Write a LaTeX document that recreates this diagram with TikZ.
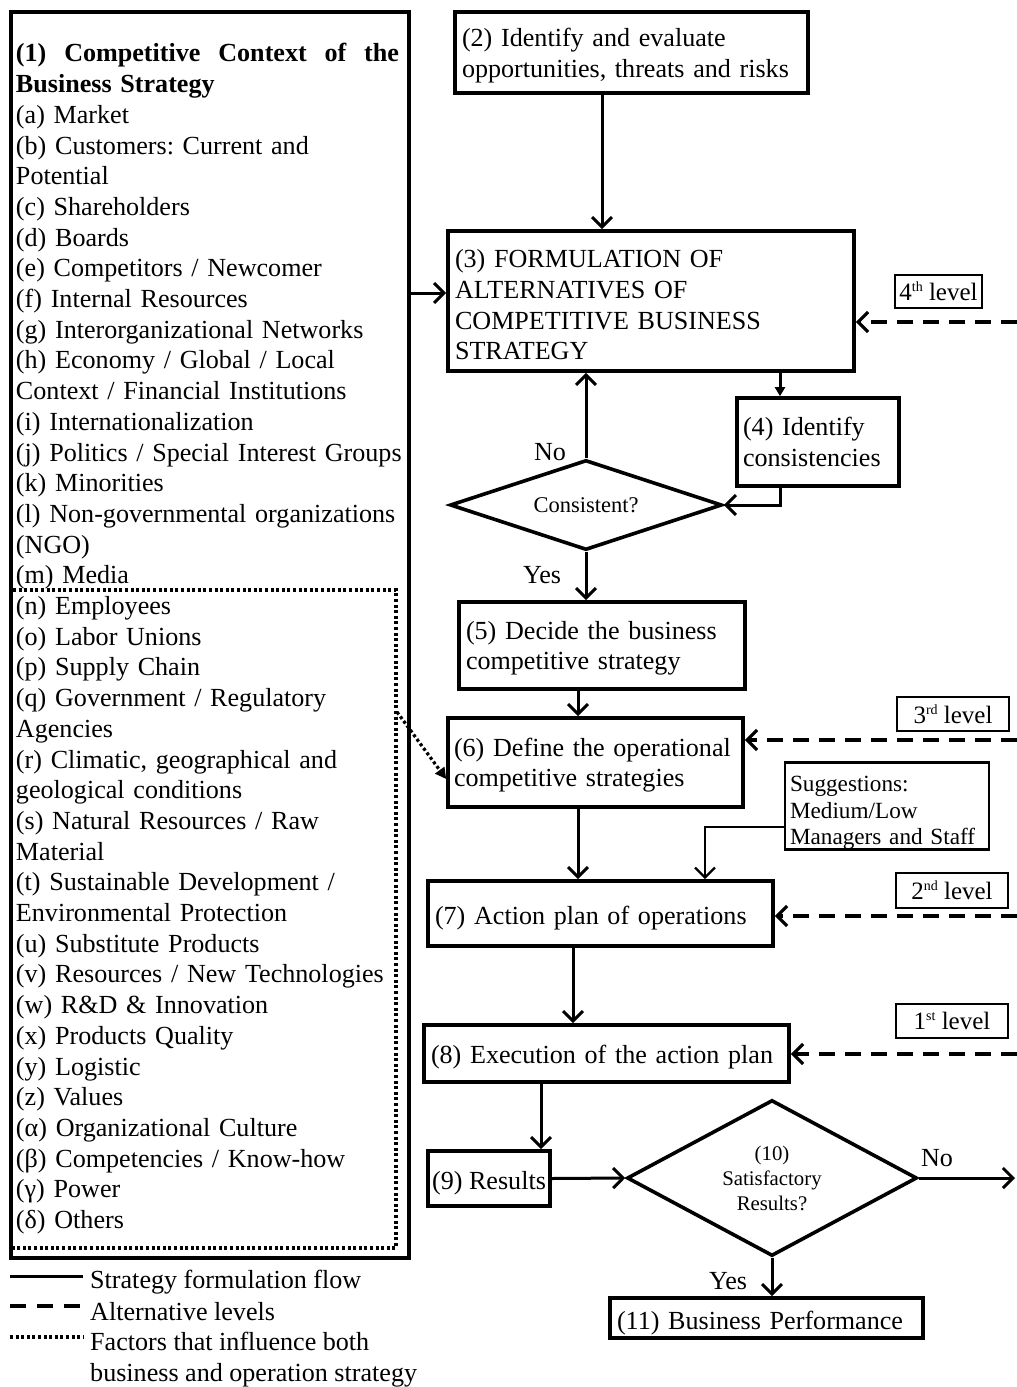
\documentclass[tikz,border=0pt]{standalone}
\usepackage{fontspec}
\setmainfont{Liberation Serif}
\usetikzlibrary{arrows.meta,shapes.geometric}
\frenchspacing
\newcommand\fsA{\fontsize{26.1}{30.6}\selectfont}
\newcommand\fsE{\fontsize{26.1}{30.7}\selectfont}
\newcommand\fsL{\fontsize{25}{28}\selectfont}
\newcommand\fsB{\fontsize{23.2}{26.5}\selectfont}
\newcommand\fsC{\fontsize{20.8}{25}\selectfont}
\newcommand\fsD{\fontsize{22.5}{26}\selectfont}
\newcommand\sps[1]{\raisebox{0.75ex}{\fontsize{14}{14}\selectfont #1}}
\newcommand\tall[1]{\rule{0pt}{#1}}
\begin{document}
\begin{tikzpicture}[x=1pt,y=-1pt,
  box/.style={draw, line width=3.6pt, align=left, inner xsep=7pt, inner ysep=0pt, font=\fsA},
  lvlbox/.style={draw, line width=1.6pt, inner sep=0pt, font=\fsL},
  dia/.style={draw, diamond, line width=3.6pt, inner sep=0pt, align=center},
  flow/.style={line width=3pt, -{Straight Barb[length=10pt,width=20pt]}},
  alt/.style={line width=3.2pt, dash pattern=on 16pt off 10pt, -{Straight Barb[length=10pt,width=20pt]}},
  infl/.style={line width=3.2pt, dash pattern=on 3pt off 2.6pt},
  lbl/.style={font=\fsA, inner sep=0pt}
]
\fill[white] (0,0) rectangle (1017,1387);
\useasboundingbox (0,0) rectangle (1017,1387);

% ---- box (1)
\node[box, font=\fsE, inner xsep=5pt, minimum width=398pt, minimum height=1246pt, text width=388pt] (b1) at (210,635) {%
\leavevmode\tall{26pt}\hbox to 383pt{\bfseries (1)\hfill Competitive\hfill Context\hfill of\hfill the}\\
\textbf{Business Strategy}\\
(a) Market\\
(b) Customers: Current and\\
Potential\\
(c) Shareholders\\
(d) Boards\\
(e) Competitors / Newcomer\\
(f) Internal Resources\\
(g) Interorganizational Networks\\
(h) Economy / Global / Local\\
Context / Financial Institutions\\
(i) Internationalization\\
(j) Politics / Special Interest Groups\\
(k) Minorities\\
(l) Non-governmental organizations\\
(NGO)\\
(m) Media\\
(n) Employees\\
(o) Labor Unions\\
(p) Supply Chain\\
(q) Government / Regulatory\\
Agencies\\
(r) Climatic, geographical and\\
geological conditions\\
(s) Natural Resources / Raw\\
Material\\
(t) Sustainable Development /\\
Environmental Protection\\
(u) Substitute Products\\
(v) Resources / New Technologies\\
(w) R\&D \& Innovation\\
(x) Products Quality\\
(y) Logistic\\
(z) Values\\
(α) Organizational Culture\\
(β) Competencies / Know-how\\
(γ) Power\\
(δ) Others};
% dotted sub-box
\draw[infl] (13,590) -- (396,590) -- (396,1248) -- (13,1248);

% ---- right column
\node[box, minimum width=353pt, minimum height=81pt, text width=339pt] (n2) at (631.5,52.5) {\tall{25pt}(2) Identify and evaluate\\opportunities, threats and risks};
\node[box, minimum width=406pt, minimum height=140pt, text width=392pt] (n3) at (651,301) {\tall{26pt}(3) FORMULATION OF\\ALTERNATIVES OF\\COMPETITIVE BUSINESS\\STRATEGY};
\node[box, inner xsep=6pt, minimum width=162pt, minimum height=88pt, text width=150pt] (n4) at (818,442) {(4) Identify\\consistencies};
\node[dia, aspect=3, minimum width=272pt, minimum height=90pt, font=\fsD] (d1) at (586,505) {Consistent?};
\node[box, minimum width=286pt, minimum height=87pt, text width=272pt] (n5) at (602,645.5) {\tall{24pt}(5) Decide the business\\competitive strategy};
\node[box, inner xsep=6pt, minimum width=295pt, minimum height=89pt, text width=283pt] (n6) at (595.5,762.5) {\tall{24pt}(6) Define the operational\\competitive strategies};
\node[draw, line width=2.4pt, align=left, font=\fsB, inner xsep=5pt, inner ysep=0pt, minimum width=204pt, minimum height=84pt, text width=194pt] (sug) at (887,806) {\tall{29pt}Suggestions:\\Medium/Low\\Managers and Staff};
\node[box, minimum width=345pt, minimum height=65pt, text width=331pt] (n7) at (600.5,913.5) {\tall{28pt}(7) Action plan of operations};
\node[box, minimum width=365pt, minimum height=57pt, text width=351pt] (n8) at (606.5,1053.5) {\tall{26pt}(8) Execution of the action plan};
\node[box, inner xsep=2pt, minimum width=122pt, minimum height=55pt] (n9) at (489,1178.5) {\tall{28pt}(9) Results};
\node[dia, aspect=1.86, minimum width=290pt, minimum height=156pt, font=\fsC] (d2) at (772,1178) {(10)\\Satisfactory\\Results?};
\node[box, minimum width=313pt, minimum height=40pt, text width=299pt] (n11) at (766.5,1318) {\tall{28pt}(11) Business Performance};

% ---- level labels
\node[lvlbox, minimum width=87pt, minimum height=33pt] (l4) at (938.5,291.5) {4\sps{th} level};
\node[lvlbox, minimum width=112pt, minimum height=34pt] (l3) at (953,714) {3\sps{rd} level};
\node[lvlbox, minimum width=112pt, minimum height=35pt] (l2) at (952,890.5) {2\sps{nd} level};
\node[lvlbox, minimum width=112pt, minimum height=34pt] (l1) at (952,1021) {1\sps{st} level};

% ---- decision labels
\node[lbl] (no1) at (550,452) {No};
\node[lbl] (yes1) at (542,575) {Yes};
\node[lbl] (no2) at (937,1158) {No};
\node[lbl] (yes2) at (728,1281) {Yes};

% ---- helper coordinates
\coordinate (x602) at (602,0);
\coordinate (x780) at (780,0);
\coordinate (x578) at (578,0);
\coordinate (x573) at (573,0);
\coordinate (x541) at (541,0);
\coordinate (x705) at (705,0);
\coordinate (y293) at (0,293);
\coordinate (y827) at (0,827);
\coordinate (y779) at (0,779);
\coordinate (e4) at (1017,322);
\coordinate (e3) at (1017,740);
\coordinate (e2) at (1017,916);
\coordinate (e1) at (1017,1054);
\coordinate (eno) at (1015,1178);
\coordinate (dA) at (397,712);

% ---- connectors
\draw[flow] (n2.south -| x602) -- (n3.north -| x602);
\draw[flow] (b1.east |- y293) -- (n3.west |- y293);
\draw[alt] (e4) -- (n3.east |- e4);
\draw[line width=3pt, -{Triangle[length=9pt,width=10pt]}] (n3.south -| x780) -- (n4.north -| x780);
\draw[flow] (n4.south -| x780) |- (d1.east);
\draw[flow] (d1.north) -- (d1.north |- n3.south);
\draw[flow] (d1.south) -- (d1.south |- n5.north);
\draw[flow] (n5.south -| x578) -- (n6.north -| x578);
\draw[alt] (e3) -- (n6.east |- e3);
\draw[infl, -{Triangle[length=11pt,width=11pt]}] (dA) -- (n6.west |- y779);
\draw[flow] (n6.south -| x578) -- (n7.north -| x578);
\draw[flow, line width=2.4pt] (sug.west |- y827) -| (n7.north -| x705);
\draw[alt] (e2) -- (n7.east |- e2);
\draw[flow] (n7.south -| x573) -- (n8.north -| x573);
\draw[alt] (e1) -- (n8.east |- e1);
\draw[flow] (n8.south -| x541) -- (n9.north -| x541);
\draw[flow] (n9.east) -- (d2.west);
\draw[flow] (d2.east) -- (eno);
\draw[flow] (d2.south) -- (d2.south |- n11.north);

% ---- legend
\coordinate (lg1a) at (10,1276); \coordinate (lg1b) at (83,1276);
\coordinate (lg2a) at (10,1306); \coordinate (lg2b) at (80,1306);
\coordinate (lg3a) at (10,1337); \coordinate (lg3b) at (83,1337);
\draw[line width=3pt] (lg1a) -- (lg1b);
\draw[line width=3.2pt, dash pattern=on 16pt off 11pt] (lg2a) -- (lg2b);
\draw[infl] (lg3a) -- (lg3b);
\node[lbl, anchor=west] (lt1) at (90,1282) {Strategy formulation flow};
\node[lbl, anchor=west] (lt2) at (90,1312) {Alternative levels};
\node[lbl, anchor=west, align=left, font=\fontsize{26.1}{31}\selectfont] (lt3) at (90,1360) {Factors that influence both\\business and operation strategy};
\end{tikzpicture}
\end{document}
